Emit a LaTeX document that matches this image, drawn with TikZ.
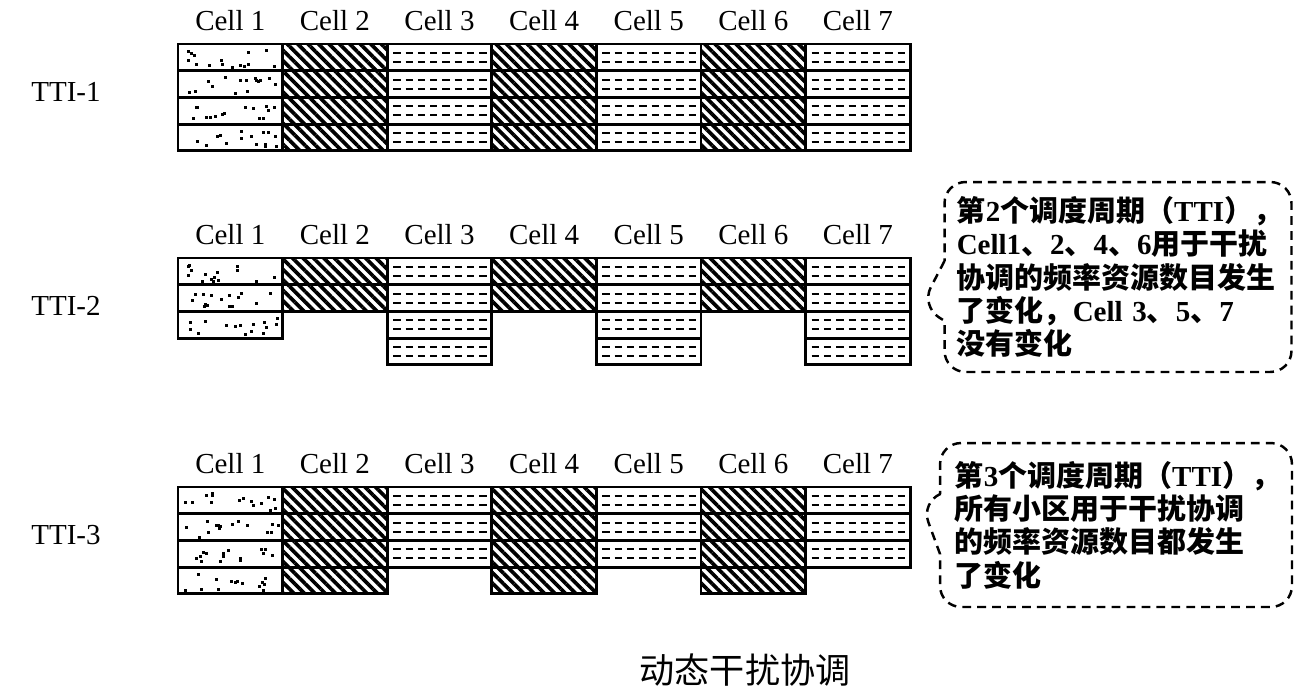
\documentclass[tikz,border=0pt]{standalone}
\usepackage{fontspec}
\setmainfont{Liberation Serif}
\newfontfamily\cjk{Noto Sans CJK SC}
\usetikzlibrary{patterns.meta,shapes.callouts}
\newcommand\latn[1]{{\rmfamily #1}}

\begin{document}
\begin{tikzpicture}[x=0.02cm, y=-0.02cm,
  lab/.style={font=\fontsize{16.5}{19}\selectfont},
  frame/.style={line width=1.6pt},
  hatchfill/.style={pattern={Lines[angle=-45,distance=4.2pt,line width=2.1pt]}},
  dashrow/.style={line width=1.2pt, dash pattern=on 4.2pt off 2.8pt},
  note/.style={rectangle callout, draw, line width=1.4pt, dash pattern=on 5pt off 3.5pt,
    rounded corners=12pt, callout pointer width=1.2cm, text width=6.45cm, align=left,
    font=\cjk\bfseries\fontsize{16.5}{19}\selectfont}]
\useasboundingbox (0,0) rectangle (1310,696);
\pgfmathsetseed{12}
\foreach \t/\yt/\cnts in {1/44/{4,4,4,4,4,4,4}, 2/258/{3,2,4,2,4,2,4}, 3/487/{4,4,3,4,3,4,3}}{
  \node[lab] (tti\t) at (66,\yt+48) {TTI-\t};
  \foreach \n [count=\c] in \cnts{
    \pgfmathsetmacro\xa{178+(\c-1)*104.6}
    \node[lab] (cell\t-\c) at (\xa+52.3,\yt-23) {Cell \c};
    \foreach \r in {1,...,\n}{
      \pgfmathsetmacro\ya{\yt+(\r-1)*26.7}
      \ifnum\c=1
        \foreach \k in {1,...,15}
          \fill ({\xa+5+94*rnd},{\ya+5+17*rnd}) rectangle ++(3,3);
      \else\ifodd\c
        \draw[dashrow] (\xa+6,\ya+9) -- (\xa+100,\ya+9);
        \draw[dashrow] (\xa+6,\ya+18) -- (\xa+100,\ya+18);
      \else
        \fill[hatchfill] (\xa,\ya) rectangle ++(104.6,26.7);
      \fi\fi
      \draw[frame] (\xa,\ya) rectangle ++(104.6,26.7);
    }
  }
}
\node[note, callout absolute pointer={(921,306)}, minimum width=6.94cm, minimum height=3.8cm] (note2) at (1118,277)
  {第\latn{2}个调度周期（\latn{TTI}），\\
   \latn{Cell1}、\latn{2}、\latn{4}、\latn{6}用于干扰\\
   协调的频率资源数目发生\\
   了变化，\latn{Cell 3}、\latn{5}、\latn{7}\\
   没有变化};
\node[note, callout absolute pointer={(921,502)}, minimum width=7.04cm, minimum height=3.28cm] (note3) at (1116,525)
  {第\latn{3}个调度周期（\latn{TTI}），\\
   所有小区用于干扰协调\\
   的频率资源数目都发生\\
   了变化};
\node[font=\cjk\fontsize{20}{24}\selectfont] (title) at (745,670) {动态干扰协调};
\end{tikzpicture}
\end{document}
